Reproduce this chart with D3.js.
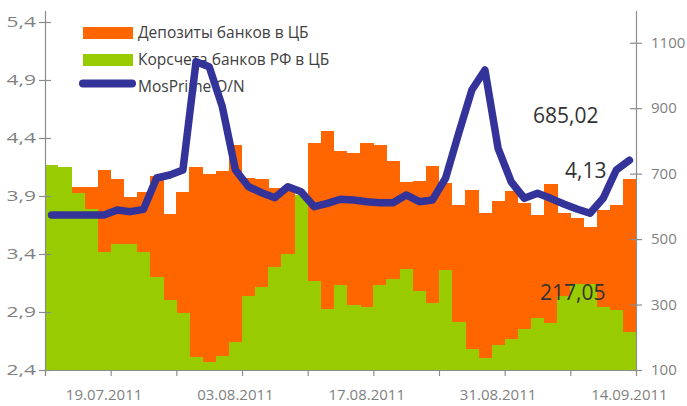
<!DOCTYPE html>
<html><head><meta charset="utf-8">
<script src="https://cdn.jsdelivr.net/npm/d3@7"></script>
<style>
html,body{margin:0;padding:0;background:#fff;}
svg{display:block;font-family:"Open Sans",sans-serif;}
</style></head>
<body><svg id="c" width="687" height="406"></svg>
<script>
const dates = ["13.07.2011","14.07.2011","15.07.2011","18.07.2011","19.07.2011","20.07.2011","21.07.2011","25.07.2011","26.07.2011","27.07.2011","28.07.2011","29.07.2011","01.08.2011","02.08.2011","03.08.2011","04.08.2011","05.08.2011","08.08.2011","09.08.2011","10.08.2011","11.08.2011","12.08.2011","15.08.2011","16.08.2011","17.08.2011","18.08.2011","19.08.2011","22.08.2011","23.08.2011","24.08.2011","25.08.2011","26.08.2011","29.08.2011","30.08.2011","31.08.2011","01.09.2011","02.09.2011","05.09.2011","06.09.2011","07.09.2011","08.09.2011","09.09.2011","12.09.2011","13.09.2011","14.09.2011"];
const labelDates = ["19.07.2011","03.08.2011","17.08.2011","31.08.2011","14.09.2011"];
// Депозиты банков в ЦБ, млрд руб (правая ось)
const deposits = [690,700,659,659,711,684,629,644,693,578,644,721,699,708,788,688,684,655,656,620,795,830,769,764,795,788,740,675,678,723,672,604,650,581,616,647,611,574,668,581,564,538,589,604,685.02];
// Корсчета банков РФ в ЦБ, млрд руб (правая ось)
const korsch = [726,721,642,592,462,485,485,461,385,314,275,141,124,144,187,327,355,416,455,635,373,286,360,298,292,360,377,410,341,306,406,247,164,138,176,195,225,259,244,326,363,363,293,283,217.05];
// MosPrime O/N, % (левая ось)
const mosprime = [3.736,3.736,3.736,3.736,3.736,3.779,3.765,3.785,4.055,4.081,4.124,5.058,5.015,4.670,4.124,3.980,3.928,3.885,3.980,3.937,3.808,3.837,3.872,3.866,3.851,3.842,3.842,3.909,3.851,3.866,4.053,4.441,4.814,4.986,4.311,4.021,3.880,3.923,3.880,3.831,3.788,3.751,3.880,4.124,4.208];
const leftTicks = [2.4,2.9,3.4,3.9,4.4,4.9,5.4];
const rightTicks = [100,300,500,700,900,1100];
const seriesNames = ["Депозиты банков в ЦБ","Корсчета банков РФ в ЦБ","MosPrime O/N"];
const valueLabels = ["685,02","4,13","217,05"];

const C_OR = "#FF6600", C_GR = "#99CC00", C_LN = "#333399", C_AX = "#8c8c8c", C_TX = "#7f7f7f", C_DK = "#404040";

const svg = d3.select("#c");
const x = d3.scaleBand().domain(dates).range([45,636]).paddingInner(0).paddingOuter(0);
const xi = d3.scaleLinear().domain([0,dates.length]).range([45,636]);
const yL = d3.scaleLinear().domain([2.4,5.5]).range([370,10.4]);
const yR = d3.scaleLinear().domain([100,1200]).range([370,10]);

// bars
svg.append("g").selectAll("rect").data(deposits).join("rect")
  .attr("x",(d,i)=>x(dates[i])).attr("width",x.bandwidth()+0.3)
  .attr("y",d=>yR(d)).attr("height",d=>yR(100)-yR(d))
  .attr("fill",C_OR).attr("shape-rendering","crispEdges");
svg.append("g").selectAll("rect").data(korsch).join("rect")
  .attr("x",(d,i)=>x(dates[i])).attr("width",x.bandwidth()+0.3)
  .attr("y",d=>yR(d)).attr("height",d=>yR(100)-yR(d))
  .attr("fill",C_GR).attr("shape-rendering","crispEdges");

// axes
const fmtL = d => d3.format(".1f")(d).replace(".",",");
const gL = svg.append("g").attr("transform","translate(45,0)")
  .call(d3.axisLeft(yL).tickValues(leftTicks).tickFormat(fmtL).tickSizeInner(6).tickSizeOuter(0).tickPadding(6));
gL.select(".domain").attr("d","M0.5,11V376");
gL.selectAll(".tick line").attr("x1",6);
gL.selectAll(".tick text").attr("transform","scale(1.4,1)").attr("x",-9/1.4);
const gR = svg.append("g").attr("transform","translate(636,0)")
  .call(d3.axisRight(yR).tickValues(rightTicks).tickFormat(d3.format("d")).tickSizeInner(6).tickSizeOuter(0).tickPadding(9));
gR.select(".domain").attr("d","M0.5,11V371");
gR.selectAll(".tick line").attr("x1",-6);
const gB = svg.append("g").attr("transform","translate(0,370)")
  .call(d3.axisBottom(xi).tickValues(d3.range(0,dates.length+1,5)).tickFormat("").tickSizeInner(6).tickSizeOuter(0));
gB.select(".domain").attr("d","M45,0.5H636");
const gB2 = svg.append("g").attr("transform","translate(0,370)")
  .call(d3.axisBottom(x).tickValues(labelDates).tickSize(0).tickPadding(19));
gB2.select(".domain").remove();
[gL,gR,gB,gB2].forEach(g=>{
  g.selectAll(".domain").attr("stroke",C_AX).attr("stroke-width",1.2);
  g.selectAll(".tick line").attr("stroke",C_AX).attr("stroke-width",1.2);
  g.selectAll("text").attr("fill",C_TX).attr("font-size",15).attr("font-family","'Open Sans',sans-serif");
});

// legend
const lg = svg.append("g");
lg.append("rect").attr("x",83).attr("y",27).attr("width",50).attr("height",12).attr("fill",C_OR);
lg.append("rect").attr("x",83).attr("y",54).attr("width",50).attr("height",12).attr("fill",C_GR);
lg.append("line").attr("x1",83).attr("x2",132).attr("y1",83.5).attr("y2",83.5)
  .attr("stroke",C_LN).attr("stroke-width",8).attr("stroke-linecap","round");
lg.selectAll("text").data(seriesNames).join("text")
  .attr("x",138).attr("y",(d,i)=>38+i*27.2).text(d=>d)
  .attr("fill",C_DK).attr("font-size",15.5);

// line
svg.append("path").datum(mosprime)
  .attr("d",d3.line().x((d,i)=>x(dates[i])+x.bandwidth()/2).y(d=>yL(d)))
  .attr("fill","none").attr("stroke",C_LN).attr("stroke-width",7.5)
  .attr("stroke-linejoin","round").attr("stroke-linecap","round");

// value labels
const vl = svg.append("g").attr("fill","#333").attr("font-size",21);
vl.append("text").attr("x",533).attr("y",123).text(valueLabels[0]);
vl.append("text").attr("x",565).attr("y",178).text(valueLabels[1]);
vl.append("text").attr("x",540).attr("y",300).text(valueLabels[2]);
</script></body></html>
